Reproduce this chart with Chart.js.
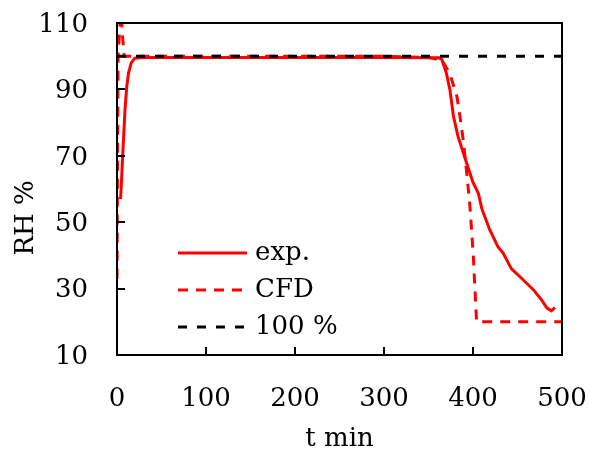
<!DOCTYPE html>
<html>
<head>
<meta charset="utf-8">
<script src="https://cdn.jsdelivr.net/npm/chart.js@4"></script>
<style>
  html, body { margin: 0; padding: 0; background: #fff; }
</style>
</head>
<body>
<canvas id="c" width="590" height="452"></canvas>
<script>
// series: [t min, RH %]
const expPoints = [[4,57],[5,62],[6.4,70],[9,84],[11,91],[13,95],[16,98],[20,99.4],[30,99.6],[100,99.6],[200,99.6],[300,99.6],[355,99.5],[362,99.5],[365,99],[370,95],[374,90],[378,82],[383,76],[389,71],[395,66],[400,62],[406,58.7],[410,54],[419,47.6],[428,42.6],[434,40.6],[443,36],[453,33.5],[468,29.6],[477,26.6],[483,24.2],[488,23.3],[492,24.3]];
const cfdPoints = [[0,33],[0.6,70],[1.2,100],[3,108],[4.5,113],[6,107],[8,100],[10,100],[100,100],[200,100],[300,100],[350,99.6],[358,99.2],[363,99.6],[367,97.9],[374,94.8],[382,87.8],[385.4,81.8],[389,74.8],[393,64.7],[396.6,54.7],[400.4,39.6],[404,20],[500,20]];
const refPoints = [[0,100],[500,100]];
const seriesLabels = ['exp.', 'CFD', '100 %'];

const xTicks = [0, 100, 200, 300, 400, 500];
const yTicks = [10, 30, 50, 70, 90, 110];

const FONT = 'DejaVu Serif';

function toXY(arr){
    return arr.map(p => ({x: p[0], y: p[1]}))
}

// box, inward tick marks and the legend
const framePlugin = {
    id: 'frame',
    afterDraw(chart){
        const ctx = chart.ctx
        const a = chart.chartArea
        ctx.save()
        ctx.strokeStyle = '#000'
        ctx.lineWidth = 2
        ctx.strokeRect(a.left, a.top, a.right - a.left, a.bottom - a.top)
        const xs = chart.scales.x, ys = chart.scales.y
        ctx.beginPath()
        xs.ticks.forEach(t => {
            let px = Math.round(xs.getPixelForValue(t.value))
            ctx.moveTo(px, a.bottom)
            ctx.lineTo(px, a.bottom - 8)
        })
        ys.ticks.forEach(t => {
            let py = Math.round(ys.getPixelForValue(t.value))
            ctx.moveTo(a.left, py)
            ctx.lineTo(a.left + 8, py)
        })
        ctx.stroke()

        // legend
        let lx = a.left + 61, ly = a.top + 230
        ctx.font = '26px "' + FONT + '"'
        ctx.textBaseline = 'middle'
        ctx.fillStyle = '#000'
        chart.data.datasets.forEach((ds, i) => {
            let y = ly + i * 37
            ctx.beginPath()
            ctx.strokeStyle = ds.borderColor
            ctx.lineWidth = ds.borderWidth
            ctx.setLineDash(ds.borderDash || [])
            ctx.moveTo(lx, y)
            ctx.lineTo(lx + 69, y)
            ctx.stroke()
            ctx.setLineDash([])
            ctx.fillText(ds.label, lx + 77, y)
        })
        ctx.restore()
    }
}

const data = {
    datasets: [{
            label: seriesLabels[0],
            data: toXY(expPoints),
            borderColor: '#ff0000',
            borderWidth: 3,
            order: 3
        }, {
            label: seriesLabels[1],
            data: toXY(cfdPoints),
            borderColor: '#ff0000',
            borderWidth: 3,
            borderDash: [10, 8],
            order: 2
        }, {
            label: seriesLabels[2],
            data: toXY(refPoints),
            borderColor: '#000000',
            borderWidth: 3,
            borderDash: [9, 10],
            order: 1
        }]
};

const config = {
    type: 'line',
    data: data,
    options: {
        responsive: false,
        animation: false,
        devicePixelRatio: 1,
        layout: { padding: { top: 23, right: 28, left: 0, bottom: 0 } },
        elements: { point: { radius: 0 }, line: { tension: 0 } },
        plugins: { legend: { display: false }, tooltip: { enabled: false } },
        scales: {
            x: {
                type: 'linear',
                min: 0, max: 500,
                afterBuildTicks: s => { s.ticks = xTicks.map(v => ({value: v})) },
                grid: { display: false, drawTicks: false },
                border: { display: false },
                ticks: { color: '#000', padding: 29, font: { family: FONT, size: 26 } },
                title: { display: true, text: 't min', color: '#000', padding: 0, font: { family: FONT, size: 26, lineHeight: 1 } },
                afterFit: s => { s.height = 97; s.paddingLeft = 0; s.paddingRight = 0 }
            },
            y: {
                min: 10, max: 110,
                afterBuildTicks: s => { s.ticks = yTicks.map(v => ({value: v})) },
                grid: { display: false, drawTicks: false },
                border: { display: false },
                ticks: { color: '#000', padding: 29, labelOffset: 2, font: { family: FONT, size: 26 } },
                title: { display: true, text: 'RH %\u00a0\u00a0\u00a0\u00a0\u00a0\u00a0\u00a0', color: '#000', padding: { top: 11, bottom: 0 }, font: { family: FONT, size: 26 } },
                afterFit: s => { s.width = 117; s.paddingTop = 0; s.paddingBottom = 0 }
            }
        }
    },
    plugins: [framePlugin]
};
let c = document.getElementById('c').getContext('2d')
new Chart(c, config)
</script>
</body>
</html>
